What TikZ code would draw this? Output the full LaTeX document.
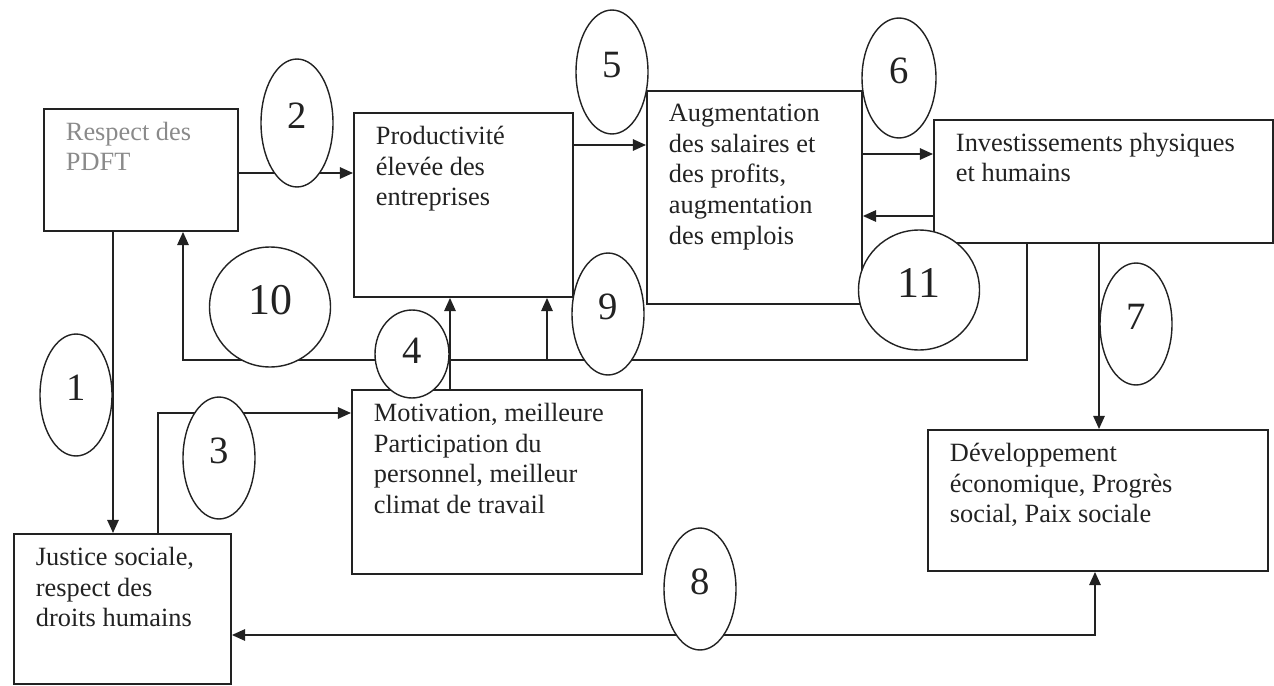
\documentclass[tikz,border=0pt]{standalone}
\usepackage{fontspec}
\setmainfont{Liberation Serif}
\usetikzlibrary{shapes.geometric,arrows.meta,calc}
\pgfdeclarelayer{fg}
\pgfsetlayers{main,fg}
\definecolor{ink}{HTML}{222222}
\definecolor{pale}{HTML}{8A8A8A}
\newcommand{\boxtext}[3]{\parbox[t][#2][t]{#1}{\raggedright #3}}
\tikzset{
  box/.style={draw=ink, line width=1.1pt, anchor=north west, inner xsep=0.44cm, inner ysep=0.26cm,
    text=ink, font=\fontsize{15}{17.5}\selectfont},
  num/.style={ellipse, draw=ink, line width=0.8pt, fill=white, inner sep=0pt, text=ink,
    minimum width=1.44cm, minimum height=2.44cm, text depth=8pt, font=\fontsize{22}{22}\selectfont},
  bignum/.style={num, minimum width=2.42cm, minimum height=2.4cm, font=\fontsize{25}{25}\selectfont},
  arr/.style={draw=ink, line width=1pt, -{Triangle[length=7.5pt,width=6.5pt]}},
  arrboth/.style={draw=ink, line width=1pt, {Triangle[length=7.5pt,width=6.5pt]}-{Triangle[length=7.5pt,width=6.5pt]}},
  link/.style={draw=ink, line width=1pt}
}
\begin{document}
\begin{tikzpicture}[x=0.02cm, y=-0.02cm]
\useasboundingbox (0,0) rectangle (1274,686);
% boxes
\node[box, text=pale] (A) at (43,108) {\boxtext{3.00cm}{1.92cm}{Respect des\\PDFT}};
\node[box] (B) at (353,112) {\boxtext{3.50cm}{3.16cm}{Productivité\\élevée des\\entreprises}};
\node[box] (C) at (646,90) {\boxtext{3.42cm}{3.74cm}{Augmentation\\des salaires et\\des profits,\\augmentation\\des emplois}};
\node[box] (D) at (933,119) {\boxtext{5.90cm}{1.94cm}{Investissements physiques\\et humains}};
\node[box] (E) at (351,389) {\boxtext{4.92cm}{3.16cm}{Motivation, meilleure\\Participation du\\personnel, meilleur\\climat de travail}};
\node[box] (F) at (13,533) {\boxtext{3.46cm}{2.48cm}{Justice sociale,\\respect des\\droits humains}};
\node[box] (G) at (927,429) {\boxtext{5.92cm}{2.30cm}{Développement\\économique, Progrès\\social, Paix sociale}};
% helper coordinates
\coordinate (k1) at ($(A.south west)+(70,0)$);
\coordinate (k2) at ($(A.north east)+(0,65)$);
\coordinate (k3) at ($(F.north west)+(145,0)$);
\coordinate (k3b) at ($(E.north west)+(0,24)$);
\coordinate (k4) at ($(E.north west)+(99,0)$);
\coordinate (k5) at ($(D.south west)+(94,0)$);
\coordinate (k6) at ($(A.south west)+(140,0)$);
\coordinate (kh) at (0,360);
\coordinate (k7) at ($(B.south west)+(194,0)$);
\coordinate (k8) at ($(B.north east)+(0,33)$);
\coordinate (k9) at ($(C.north east)+(0,64)$);
\coordinate (k10) at ($(D.north west)+(0,97)$);
\coordinate (k11) at ($(D.south west)+(166,0)$);
\coordinate (k12) at ($(G.south west)+(168,0)$);
\coordinate (kb) at (0,635);
% connectors
\draw[arr] (k1) -- (k1 |- F.north);
\draw[arr] (k2) -- (k2 -| B.west);
\draw[arr] (k3) |- (k3b);
\draw[arr] (k4) -- (k4 |- B.south);
\draw[arr] (k5) -- (k5 |- kh) -- (k6 |- kh) -- (k6);
\draw[arr] (k7 |- kh) -- (k7);
\draw[arr] (k8) -- (k8 -| C.west);
\draw[arr] (k9) -- (k9 -| D.west);
\draw[arr] (k10) -- (k10 -| C.east);
\draw[arr] (k11) -- (k11 |- G.north);
\draw[arrboth] (k12) -- (k12 |- kb) -- (kb -| F.east);
% numbered ellipses
\begin{pgfonlayer}{fg}
\node[num] (n1) at (76,395) {1};
\node[num, minimum height=2.56cm] (n2) at (297,123) {2};
\node[num] (n3) at (219,458) {3};
\node[num, minimum width=1.48cm, minimum height=1.76cm, text depth=4pt] (n4) at (412,354) {4};
\node[num, minimum height=2.48cm] (n5) at (612,72) {5};
\node[num, minimum width=1.48cm, minimum height=2.4cm] (n6) at (899,78) {6};
\node[num] (n7) at (1136,324) {7};
\node[num] (n8) at (700,589) {8};
\node[num] (n9) at (608,314) {9};
\node[bignum] (n10) at (270,307) {10};
\node[bignum] (n11) at (919,290) {11};
\end{pgfonlayer}
\end{tikzpicture}
\end{document}
